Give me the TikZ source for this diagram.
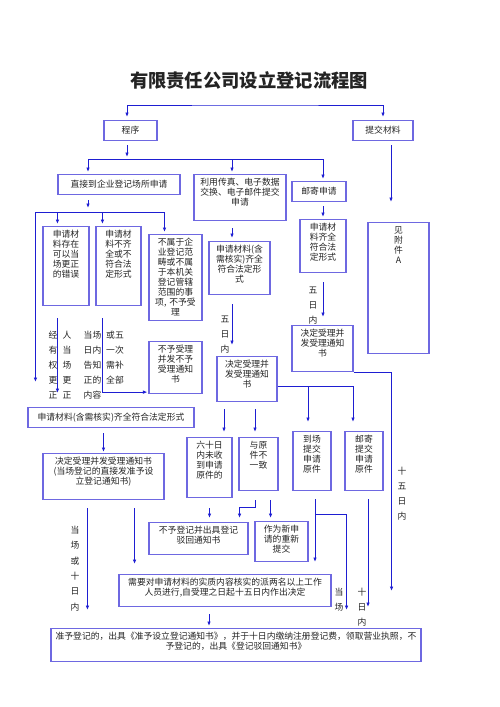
\documentclass[tikz,border=0pt]{standalone}
\usepackage{fontspec}
\setmainfont{Noto Sans CJK SC}
\usetikzlibrary{arrows.meta}
\definecolor{boxblue}{RGB}{110,104,225}
\definecolor{lineblue}{RGB}{30,30,210}
\definecolor{inkgray}{RGB}{35,35,35}
\begin{document}
\begin{tikzpicture}[x=1pt, y=-1pt, >={Latex[length=4.5pt,width=3.6pt]}]
  \tikzstyle{box}=[draw=boxblue, line width=1.1pt, anchor=north, align=center, inner xsep=0pt, inner ysep=3.5pt, text height=7.5pt, text=inkgray, font=\fontsize{8.8}{10}\selectfont]
  \tikzstyle{onebox}=[box, inner ysep=5pt, text depth=2.5pt]
  \tikzstyle{tag}=[anchor=base, align=center, inner sep=0pt, text width=20pt, text=inkgray, font=\fontsize{8.8}{15}\selectfont]
  \tikzstyle{link}=[->, draw=lineblue, line width=1pt, shorten <=5pt, shorten >=2pt]
  \useasboundingbox (0,0) rectangle (500,707);

  \node[font=\fontsize{18.3}{20}\selectfont\bfseries, text=inkgray] (title) at (249,80) {有限责任公司设立登记流程图};

  % boxes
  \node[onebox, text width=53pt] (prog) at (130.5,120) {程序};
  \node[onebox, text width=60pt] (submit) at (383,120) {提交材料};
  \node[onebox, text width=122pt] (direct) at (119,174) {直接到企业登记场所申请};
  \node[box, text width=92pt, text depth=31.5pt] (fax) at (240,174) {利用传真、电子数据\\交换、电子邮件提交\\申请};
  \node[onebox, text width=54pt] (mail) at (319,181) {邮寄申请};
  \node[box, text width=61pt, text depth=116.5pt] (attach) at (398.5,222) {见\\附\\件\\A};
  \node[box, text width=46pt, text depth=64.5pt] (fix) at (66,226) {申请材\\料存在\\可以当\\场更正\\的错误};
  \node[box, text width=45pt, text depth=64.5pt] (lack) at (118.5,226) {申请材\\料不齐\\全或不\\符合法\\定形式};
  \node[box, text width=53pt, text depth=71.5pt] (outof) at (175.5,234) {不属于企\\业登记范\\畴或不属\\于本机关\\登记管辖\\范围的事\\项, 不予受\\理};
  \node[box, text width=53pt, text depth=37.5pt] (noaccept) at (175.5,341) {不予受理\\并发不予\\受理通知\\书};
  \node[onebox, text width=166pt] (eqfull) at (111,407) {申请材料(含需核实)齐全符合法定形式};
  \node[box, text width=121pt, text depth=31.5pt] (accept) at (103.5,453) {决定受理并发受理通知书\\(当场登记的直接发准予设\\立登记通知书)};
  \node[box, text width=61pt, text depth=38.5pt] (faxfull) at (239.5,241) {申请材料(含\\需核实)齐全\\符合法定形\\式};
  \node[box, text width=60pt, text depth=30.5pt] (faxaccept) at (247,356) {决定受理并\\发受理通知\\书};
  \node[box, text width=46pt, text depth=38.5pt] (mailfull) at (323,219) {申请材\\料齐全\\符合法\\定形式};
  \node[box, text width=61pt, text depth=31.5pt] (mailaccept) at (322.5,325) {决定受理并\\发受理通知\\书};
  \node[box, text width=45pt, text depth=45.5pt] (sixty) at (209.5,437) {六十日\\内未收\\到申请\\原件的};
  \node[box, text width=39pt, text depth=38.5pt] (differ) at (258.5,437) {与原\\件不\\一致};
  \node[box, text width=38pt, text depth=44.5pt] (onsite) at (312,431) {到场\\提交\\申请\\原件};
  \node[box, text width=38pt, text depth=44.5pt] (mailorig) at (364,431) {邮寄\\提交\\申请\\原件};
  \node[box, text width=99pt, text depth=17.5pt] (reject) at (198.5,522) {不予登记并出具登记\\驳回通知书};
  \node[box, text width=53pt, text depth=25.5pt] (resubmit) at (281.5,521) {作为新申\\请的重新\\提交};
  \node[box, text width=212pt, text depth=17.5pt] (verify) at (225,574) {需要对申请材料的实质内容核实的派两名以上工作\\人员进行,自受理之日起十五日内作出决定};
  \node[box, text width=370pt, text depth=18.5pt] (final) at (236,628) {准予登记的，出具《准予设立登记通知书》，并于十日内缴纳注册登记费，领取营业执照，不\\予登记的，出具《登记驳回通知书》};

  % labels beside the lines
  \node[tag, text width=10pt] (who1) at (53,338.3) {经\\有\\权\\更\\正};
  \node[tag, text width=10pt] (who2) at (67,338.3) {人\\当\\场\\更\\正};
  \node[tag] (tell1) at (92.5,338.3) {当场\\日内\\告知\\正的\\内容};
  \node[tag] (tell2) at (115,338.3) {或五\\一次\\需补\\全部};
  \node[tag, text width=10pt] (faxdays) at (225,322.3) {五\\日\\内};
  \node[tag, text width=10pt] (maildays) at (313,293.3) {五\\日\\内};
  \node[tag, text width=10pt, font=\fontsize{8.8}{15.4}\selectfont] (accdays) at (75,533.3) {当\\场\\或\\十\\日\\内};
  \node[tag, text width=10pt] (longdays) at (402,474.3) {十\\五\\日\\内};
  \node[tag, text width=10pt] (onsday) at (339,595.3) {当\\场};
  \node[tag, text width=10pt] (modays) at (362,595.3) {十\\日\\内};

  % top level
  \coordinate (topbar) at (255,105);
  \draw[link, <->, shorten <=3pt, shorten >=3pt] ([xshift=-3.5pt]prog.north) |- (topbar) -| (submit.north);
  \coordinate (split1) at (127,159);
  \draw[link, shorten <=4pt] ([xshift=-3.5pt]prog.south) -- (split1);
  \draw[link, shorten <=0pt] (split1) -| ([xshift=-31pt]direct.north);
  \draw[link, shorten <=0pt] (split1) -| ([xshift=-8pt]fax.north);
  \draw[link, shorten <=0pt] (split1) -| ([xshift=4pt]mail.north);
  \coordinate (sub1) at ([xshift=8pt]submit.south);
  \draw[link, shorten <=4pt, shorten >=20pt] (sub1) -- (sub1 |- attach.north);

  % direct application
  \coordinate (dir1) at ([xshift=-31pt]direct.south);
  \coordinate (split2) at (88,212);
  \draw[link, shorten >=4pt] (dir1) -- (split2);
  \draw[link, shorten <=0pt] (split2) -| ([xshift=15pt]fix.north west);
  \draw[link, shorten <=0pt] (split2) -| ([xshift=7pt]lack.north west);
  \draw[link, shorten <=0pt] (split2) -| ([xshift=-11pt]outof.north);
  \draw[link, shorten <=0pt, shorten >=25pt] (split2) -| ([xshift=8pt]eqfull.north west);
  \coordinate (fix1) at ([xshift=15pt]fix.south west);
  \draw[link, shorten <=12pt, shorten >=14pt] (fix1) -- (fix1 |- eqfull.north);
  \coordinate (lack1) at ([xshift=7pt]lack.south west);
  \draw[link, shorten <=12pt, shorten >=1pt] (lack1) |- ([yshift=2pt]noaccept.south west);
  \draw[link, shorten >=1pt] (eqfull.south -| accept.north) -- (accept.north);
  \coordinate (acc1) at ([xshift=45pt]accept.south west);
  \draw[link, shorten <=8pt, shorten >=18pt] (acc1) -- (acc1 |- final.north);
  \coordinate (acc2) at ([xshift=-30pt]accept.south east);
  \draw[link, shorten <=8pt, shorten >=10pt] (acc2) -- (acc2 |- verify.north);
  \coordinate (ver1) at ([xshift=-16pt]verify.south);
  \draw[link, shorten <=7pt] (ver1) -- (ver1 |- final.north);

  % fax / e-mail application
  \coordinate (fax1) at ([xshift=-8pt]fax.south);
  \draw[link, shorten <=7pt, shorten >=3pt] (fax1) -- (fax1 |- faxfull.north);
  \coordinate (fax2) at ([xshift=-7.5pt]faxfull.south);
  \draw[link, shorten <=9pt, shorten >=11pt] (fax2) -- (fax2 |- faxaccept.north);
  \coordinate (fa1) at ([xshift=-23pt]faxaccept.south);
  \draw[link, shorten <=7pt, shorten >=5pt] (fa1) -- (fa1 |- sixty.north);
  \coordinate (fa2) at ([xshift=8pt]faxaccept.south);
  \draw[link, shorten <=7pt, shorten >=5pt] (fa2) -- (fa2 |- differ.north);
  \coordinate (fa3) at ([yshift=-7.5pt]faxaccept.east);
  \draw[link, shorten <=0pt, shorten >=9pt] (fa3) -| ([xshift=-4pt]onsite.north);
  \draw[link, shorten <=0pt, shorten >=9pt] (fa3) -| ([xshift=-11pt]mailorig.north);
  \draw[link, shorten <=10pt, shorten >=4pt] (sixty.south) -- (sixty.south |- reject.north);
  \coordinate (dif1) at ([xshift=-3.5pt]differ.south);
  \draw[link, shorten <=9pt, shorten >=4pt] (dif1) -- ++(0,16) -| ([xshift=-9pt]reject.north east);
  \coordinate (dif2) at ([xshift=-8pt]differ.south east);
  \draw[link, shorten <=9pt, shorten >=3pt] (dif2) -- (dif2 |- resubmit.north);
  \coordinate (ons1) at ([xshift=3pt]onsite.south);
  \draw[link, shorten <=8pt, shorten >=12pt] (ons1) -- (ons1 |- verify.north);
  \coordinate (ons2) at ([yshift=-23pt]ons1);
  \coordinate (fin1) at ([xshift=-75pt]final.north east);
  \draw[link, shorten <=0pt, shorten >=18pt] (ons2) -| (fin1);
  \coordinate (mo1) at ([xshift=4pt]mailorig.south);
  \draw[link, shorten <=8pt, shorten >=21pt] (mo1) -- (mo1 |- final.north);

  % postal application
  \draw[link, shorten <=4pt] (mail.south -| mailfull.north) -- (mailfull.north);
  \draw[link, shorten <=9pt, shorten >=8pt] (mailfull.south) -- (mailfull.south |- mailaccept.north);
  \coordinate (fin2) at ([xshift=-30pt]final.north east);
  \draw[link, shorten <=0pt, shorten >=37pt] (mailaccept.south east) -| (fin2);
\end{tikzpicture}
\end{document}
